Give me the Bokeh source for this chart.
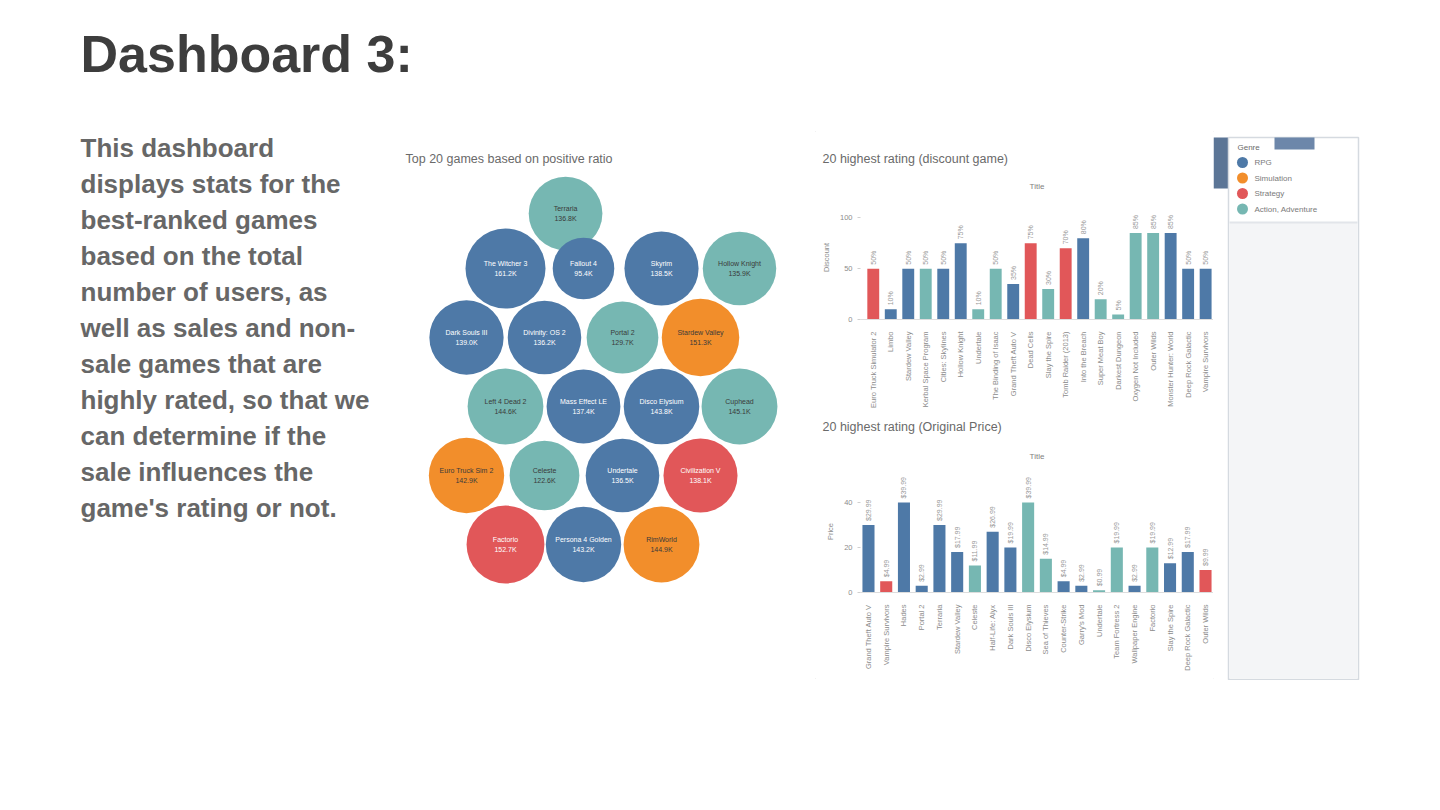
import math
from bokeh.plotting import figure
from bokeh.layouts import column, row
from bokeh.models import Range1d, FixedTicker, ColumnDataSource, Title, Spacer
from bokeh.transform import factor_cmap
from bokeh.core.properties import value
from bokeh.embed import file_html
from bokeh.resources import INLINE

# ---------------- data ----------------
genres = ["RPG", "Simulation", "Strategy", "Action, Adventure"]
genre_colors = ["#4e79a7", "#f28e2b", "#e15759", "#76b7b2"]
genre_text_colors = ["#ffffff", "#3a3a3a", "#ffffff", "#3a3a3a"]

page_title = "Dashboard 3:"
desc_lines = [
    "This dashboard",
    "displays stats for the",
    "best-ranked games",
    "based on the total",
    "number of users, as",
    "well as sales and non-",
    "sale games that are",
    "highly rated, so that we",
    "can determine if the",
    "sale influences the",
    "game's rating or not.",
]

bubble_title = "Top 20 games based on positive ratio"
bubble_games = ["Terraria", "The Witcher 3", "Fallout 4", "Skyrim", "Hollow Knight",
                "Dark Souls III", "Divinity: OS 2", "Portal 2", "Stardew Valley", "Left 4 Dead 2",
                "Mass Effect LE", "Disco Elysium", "Cuphead", "Euro Truck Sim 2", "Celeste",
                "Undertale", "Civilization V", "Factorio", "Persona 4 Golden", "RimWorld"]
bubble_users_k = [136.8, 161.2, 95.4, 138.5, 135.9, 139.0, 136.2, 129.7, 151.3, 144.6,
                  137.4, 143.8, 145.1, 142.9, 122.6, 136.5, 138.1, 152.7, 143.2, 144.9]
bubble_genre = ["Action, Adventure", "RPG", "RPG", "RPG", "Action, Adventure",
                "RPG", "RPG", "Action, Adventure", "Simulation", "Action, Adventure",
                "RPG", "RPG", "Action, Adventure", "Simulation", "Action, Adventure",
                "RPG", "Strategy", "Strategy", "RPG", "Simulation"]
bubble_row_counts = [1, 4, 4, 4, 4, 3]

disc_title = "20 highest rating (discount game)"
disc_games = ["Euro Truck Simulator 2", "Limbo", "Stardew Valley", "Kerbal Space Program",
              "Cities: Skylines", "Hollow Knight", "Undertale", "The Binding of Isaac",
              "Grand Theft Auto V", "Dead Cells", "Slay the Spire", "Tomb Raider (2013)",
              "Into the Breach", "Super Meat Boy", "Darkest Dungeon", "Oxygen Not Included",
              "Outer Wilds", "Monster Hunter: World", "Deep Rock Galactic", "Vampire Survivors"]
disc_pct = [50, 10, 50, 50, 50, 75, 10, 50, 35, 75, 30, 70, 80, 20, 5, 85, 85, 85, 50, 50]
disc_genre = ["Strategy", "RPG", "RPG", "Action, Adventure", "RPG", "RPG", "Action, Adventure",
              "Action, Adventure", "RPG", "Strategy", "Action, Adventure", "Strategy", "RPG",
              "Action, Adventure", "Action, Adventure", "Action, Adventure", "Action, Adventure",
              "RPG", "RPG", "RPG"]
disc_ticks = [0, 50, 100]

price_title = "20 highest rating (Original Price)"
price_games = ["Grand Theft Auto V", "Vampire Survivors", "Hades", "Portal 2", "Terraria",
               "Stardew Valley", "Celeste", "Half-Life: Alyx", "Dark Souls III", "Disco Elysium",
               "Sea of Thieves", "Counter-Strike", "Garry's Mod", "Undertale", "Team Fortress 2",
               "Wallpaper Engine", "Factorio", "Slay the Spire", "Deep Rock Galactic", "Outer Wilds"]
price_usd = [29.99, 4.99, 39.99, 2.99, 29.99, 17.99, 11.99, 26.99, 19.99, 39.99,
             14.99, 4.99, 2.99, 0.99, 19.99, 2.99, 19.99, 12.99, 17.99, 9.99]
price_genre = ["RPG", "Strategy", "RPG", "RPG", "RPG", "RPG", "Action, Adventure", "RPG", "RPG",
               "Action, Adventure", "Action, Adventure", "RPG", "RPG", "Action, Adventure",
               "Action, Adventure", "RPG", "Action, Adventure", "RPG", "RPG", "Strategy"]
price_ticks = [0, 20, 40]

legend_title = "Genre"

FONT = value("Liberation Sans")


def canvas(w, h):
    p = figure(width=w, height=h, x_range=Range1d(0, w), y_range=Range1d(h, 0),
               output_backend="svg", toolbar_location=None, min_border=0,
               x_axis_location=None, y_axis_location=None)
    p.grid.visible = False
    p.outline_line_color = None
    return p


# ---------------- title + description ----------------
title_fig = canvas(1440, 130)
title_fig.text(x=[80], y=[53], text=[page_title], text_font=FONT, text_font_style="bold",
               text_font_size="52px", text_color="#3d3d3d", text_baseline="middle")

text_fig = canvas(390, 680)
text_fig.text(x=[80] * len(desc_lines), y=[17 + 36 * i for i in range(len(desc_lines))],
              text=desc_lines, text_font=FONT, text_font_style="bold",
              text_font_size="26px", text_color="#676767", text_baseline="middle")

# ---------------- packed bubbles ----------------
bub = canvas(425, 550)
bub.text(x=[15], y=[28], text=[bubble_title], text_font=FONT, text_font_size="12.5px",
         text_color="#6a6a6a", text_baseline="middle")
vmax = max(bubble_users_k)
row_shift = [1.27, 0.5, 0.0, 0.5, 0.0, 0.5]
bx, by = [], []
for r, cnt in enumerate(bubble_row_counts):
    yy = 83 if r == 0 else 138 + (r - 1) * 69
    for c in range(cnt):
        bx.append(76 + (row_shift[r] + c) * 78)
        by.append(yy)
bsrc = ColumnDataSource(dict(
    x=bx, y=by, r=[40 * math.sqrt(v / vmax) for v in bubble_users_k],
    genre=bubble_genre, name=bubble_games,
    val=[f"{v}K" for v in bubble_users_k],
))
bub.circle(x="x", y="y", radius="r", source=bsrc, line_color=None,
           fill_color=factor_cmap("genre", genre_colors, genres))
bub.text(x="x", y="y", text="name", source=bsrc, y_offset=-5, text_align="center",
         text_baseline="middle", text_font=FONT, text_font_size="7px",
         text_color=factor_cmap("genre", genre_text_colors, genres))
bub.text(x="x", y="y", text="val", source=bsrc, y_offset=5, text_align="center",
         text_baseline="middle", text_font=FONT, text_font_size="7px",
         text_color=factor_cmap("genre", genre_text_colors, genres))


# ---------------- bar charts ----------------
def bar_chart(h, names, vals, gens, title, ylabel, ticks, ymax, xstart, xend, top,
              sub_standoff, main_standoff, fmt):
    p = figure(width=398, height=h, x_range=Range1d(xstart, xend), y_range=Range1d(0, ymax),
               output_backend="svg", toolbar_location=None,
               min_border_left=45, min_border_right=0, min_border_top=top, min_border_bottom=88)
    p.outline_line_color = None
    p.grid.visible = False
    idx = list(range(len(names)))
    src = ColumnDataSource(dict(x=idx, v=vals, genre=gens, lab=[fmt(v) for v in vals]))
    p.vbar(x="x", top="v", width=0.68, source=src, line_color=None,
           fill_color=factor_cmap("genre", genre_colors, genres))
    p.text(x="x", y="v", text="lab", source=src, angle=math.pi / 2, y_offset=-4,
           text_align="left", text_baseline="middle", text_font=FONT,
           text_font_size="7px", text_color="#9a9a9a")
    xa = p.xaxis[0]
    xa.ticker = FixedTicker(ticks=idx)
    xa.major_label_overrides = {i: n for i, n in enumerate(names)}
    xa.major_label_orientation = math.pi / 2
    xa.major_label_text_font_size = "7.5px"
    xa.major_label_text_font = "Liberation Sans"
    xa.major_label_text_color = "#8c8c8c"
    xa.major_tick_line_color = None
    xa.minor_tick_line_color = None
    xa.axis_line_color = "#dddddd"
    xa.major_label_standoff = 6
    ya = p.yaxis[0]
    ya.ticker = FixedTicker(ticks=ticks)
    ya.axis_line_color = None
    ya.major_tick_line_color = "#d0d0d0"
    ya.major_tick_in = 0
    ya.major_tick_out = 3
    ya.minor_tick_line_color = None
    ya.major_label_text_font_size = "7.5px"
    ya.major_label_text_font = "Liberation Sans"
    ya.major_label_text_color = "#8c8c8c"
    ya.axis_label = ylabel
    ya.axis_label_text_font_size = "7.5px"
    ya.axis_label_text_font_style = "normal"
    ya.axis_label_text_color = "#8c8c8c"
    ya.axis_label_standoff = 6
    p.add_layout(Title(text="Title", align="center", text_font_size="8px",
                       text_font_style="normal", text_color="#808080",
                       standoff=sub_standoff), "above")
    p.add_layout(Title(text=title, align="left", offset=-38, text_font_size="12.5px",
                       text_font_style="normal", text_color="#6a6a6a",
                       standoff=main_standoff), "above")
    return p


bar1 = bar_chart(280, disc_games, disc_pct, disc_genre, disc_title, "Discount",
                 disc_ticks, 122, -0.73, 19.45, 65, 10, 17, lambda v: f"{v}%")
bar2 = bar_chart(270, price_games, price_usd, price_genre, price_title, "Price",
                 price_ticks, 54.2, -0.45, 19.45, 60, 20, 12, lambda v: f"${v}")

# ---------------- legend panel ----------------
leg = canvas(149, 550)
leg.quad(left=[0], right=[15], top=[7], bottom=[58], fill_color="#5b7596", line_color=None)
leg.quad(left=[15], right=[145], top=[7], bottom=[549], fill_color="#ffffff",
         line_color="#d5dae0", line_width=1.5)
leg.quad(left=[16.5], right=[143.5], top=[92], bottom=[547.5], fill_color="#f4f5f7",
         line_color=None)
leg.segment(x0=[16], y0=[92], x1=[144], y1=[92], line_color="#e2e5ea", line_width=2)
leg.quad(left=[61], right=[101], top=[7], bottom=[19], fill_color="#6d87aa", line_color=None)
leg.text(x=[24], y=[17], text=[legend_title], text_font=FONT, text_font_size="8px",
         text_color="#6a6a6a", text_baseline="middle")
lsrc = ColumnDataSource(dict(x=[29] * len(genres), y=[32 + 15.5 * i for i in range(len(genres))],
                             g=genres))
leg.circle(x="x", y="y", radius=5.5, source=lsrc, line_color=None,
           fill_color=factor_cmap("g", genre_colors, genres))
leg.text(x="x", y="y", text="g", source=lsrc, x_offset=12, text_font=FONT,
         text_font_size="8px", text_color="#7a7a7a", text_baseline="middle")

dash = row(bub, column(bar1, bar2), leg,
           styles={"outline": "1px solid #ececec", "outline-offset": "-2px"})
layout = column(title_fig,
                row(text_fig, column(dash, Spacer(width=972, height=130)), Spacer(width=78, height=680)))

open("out.html", "w").write(file_html(layout, INLINE))
